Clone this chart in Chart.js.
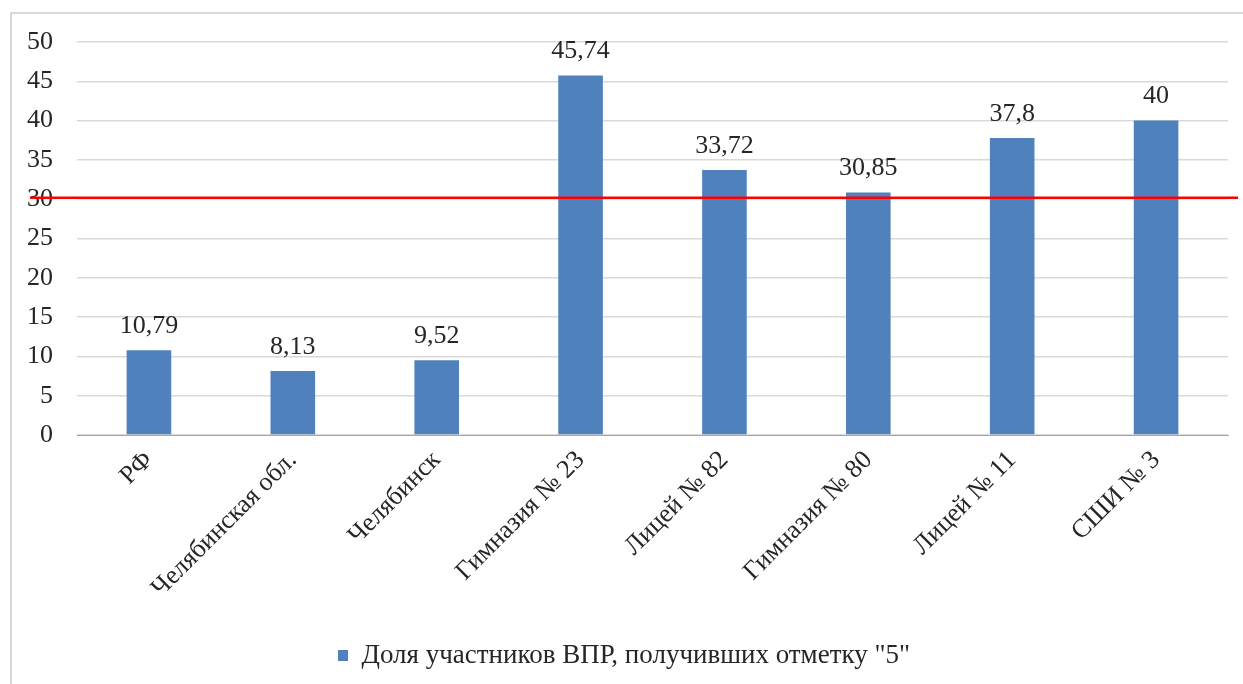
<!DOCTYPE html>
<html>
<head>
<meta charset="utf-8">
<script src="https://cdn.jsdelivr.net/npm/chart.js@4"></script>
<style>
    body { margin: 0; background: #fff; }
    #frame {
        position: absolute; left: 10px; top: 12px;
        width: 1240px; height: 680px;
        border: 2px solid #d9d9d9; border-right: none; border-bottom: none;
    }
    #wrap { position: absolute; left: 0; top: 0; width: 1243px; height: 684px; }
</style>
</head>
<body>
<div id="frame"></div>
<div id="wrap"><canvas id="chart"></canvas></div>
<script>
// Chart data
const categories = ['РФ', 'Челябинская обл.', 'Челябинск', 'Гимназия № 23', 'Лицей № 82', 'Гимназия № 80', 'Лицей № 11', 'СШИ № 3'];
const shareValues = [10.79, 8.13, 9.52, 45.74, 33.72, 30.85, 37.8, 40];
const seriesLabel = 'Доля участников ВПР, получивших отметку "5"';
const yTicks = [0, 5, 10, 15, 20, 25, 30, 35, 40, 45, 50];
const thresholdValue = 30.2;

const FONT = "'Liberation Serif', 'Times New Roman', serif";

/**
 * Draw value labels above each bar (comma as decimal separator)
 */
const valueLabels = {
    id: 'valueLabels',
    afterDatasetsDraw(chart) {
        const ctx = chart.ctx;
        const meta = chart.getDatasetMeta(0);
        ctx.save();
        ctx.font = '26px ' + FONT;
        ctx.fillStyle = '#262626';
        ctx.textAlign = 'center';
        ctx.textBaseline = 'bottom';
        meta.data.forEach((bar, i) => {
            const text = String(shareValues[i]).replace('.', ',');
            ctx.fillText(text, bar.x, bar.y - 11);
        });
        ctx.restore();
    }
};

/**
 * Red threshold line across the whole chart
 */
const thresholdLine = {
    id: 'thresholdLine',
    afterDatasetsDraw(chart) {
        const ctx = chart.ctx;
        const y = chart.scales.y.getPixelForValue(thresholdValue);
        ctx.save();
        ctx.strokeStyle = '#ff0000';
        ctx.lineWidth = 2.5;
        ctx.beginPath();
        ctx.moveTo(30, y);
        ctx.lineTo(1238, y);
        ctx.stroke();
        ctx.restore();
    }
};

new Chart(document.getElementById('chart'), {
    type: 'bar',
    data: {
        labels: categories,
        datasets: [{
            label: seriesLabel,
            data: shareValues,
            backgroundColor: '#4f81bd',
            borderWidth: 0,
            barPercentage: 0.62,
            categoryPercentage: 0.5
        }]
    },
    options: {
        responsive: true,
        maintainAspectRatio: false,
        animation: false,
        layout: { padding: { left: 20, top: 42, right: 15, bottom: 5 } },
        plugins: {
            legend: {
                position: 'bottom',
                labels: {
                    font: { family: FONT, size: 27 },
                    color: '#262626',
                    boxWidth: 10,
                    boxHeight: 11,
                    padding: 6
                }
            },
            tooltip: { enabled: false }
        },
        scales: {
            x: {
                grid: { display: false, drawTicks: false },
                border: { color: '#a6a6a6', width: 1 },
                ticks: {
                    font: { family: FONT, size: 26 },
                    color: '#262626',
                    minRotation: 45,
                    maxRotation: 45,
                    padding: 10
                },
                afterFit(scale) { scale.height = 201; }
            },
            y: {
                min: 0,
                max: 50,
                afterBuildTicks(scale) { scale.ticks = yTicks.map(v => ({ value: v })); },
                grid: { color: '#d9d9d9', lineWidth: 1.5, drawTicks: false },
                border: { display: false },
                ticks: {
                    font: { family: FONT, size: 26 },
                    color: '#262626',
                    padding: 24
                },
                afterFit(scale) { scale.width = 57; }
            }
        }
    },
    plugins: [valueLabels, thresholdLine]
});
</script>
</body>
</html>
